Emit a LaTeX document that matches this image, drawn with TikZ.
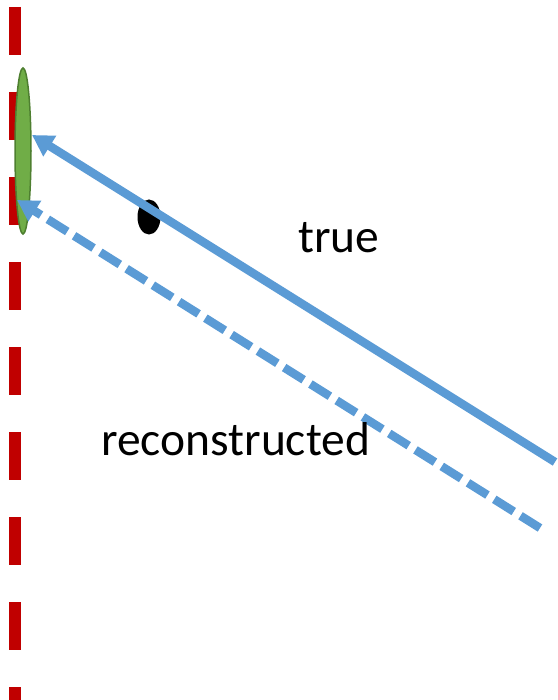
\documentclass[tikz,border=0pt]{standalone}
\usepackage{fontspec}
\setmainfont{Carlito}
\usepackage{tikz}
\usetikzlibrary{arrows.meta,shapes.geometric}
\definecolor{wall}{HTML}{C00000}
\definecolor{ray}{HTML}{5B9BD5}
\definecolor{hit}{HTML}{70AD47}
\definecolor{hitedge}{HTML}{4E7F30}

\begin{document}
\begin{tikzpicture}[x=1pt, y=-1pt, >={Triangle[length=21pt, width=23pt]},
  every node/.style={font=\fontsize{47.5}{57}\selectfont},
  track/.style={ray, line width=8.5pt, ->}]
\useasboundingbox (0,0) rectangle (557,700);
\draw[wall, line width=12pt, dash pattern=on 48pt off 37pt] (15,7) coordinate (wtop) -- (15,710) coordinate (wbot);
\node[ellipse, draw=hitedge, line width=1.5pt, fill=hit, inner sep=0pt, minimum width=16pt, minimum height=166pt] (det) at (23,151) {};
\node[ellipse, fill=black, inner sep=0pt, minimum width=23pt, minimum height=35pt] (pt) at (149,217) {};
\coordinate (trueS) at (555,462);
\coordinate (trueE) at (32,135);
\coordinate (recoS) at (540,528);
\coordinate (recoE) at (17,200);
\draw[track] (trueS) -- (trueE);
\draw[track, dash pattern=on 23pt off 8pt] (recoS) -- (recoE);
\node[anchor=base west, inner sep=0pt] (ltrue) at (298,253) {true};
\node[anchor=base west, inner sep=0pt] (lreco) at (101,455) {reconstructed};
\end{tikzpicture}
\end{document}
